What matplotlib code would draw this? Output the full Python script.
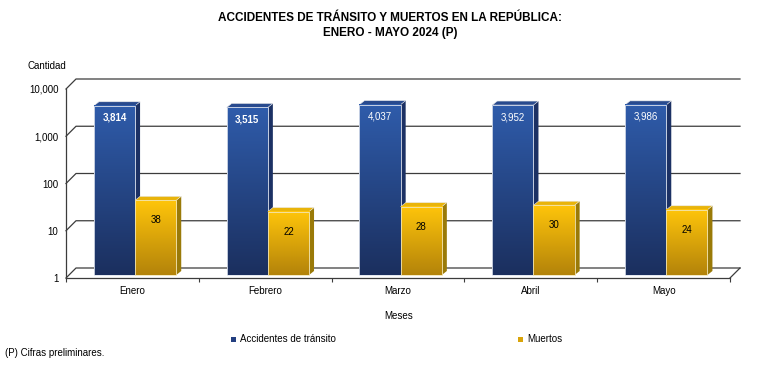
import numpy as np
import matplotlib
matplotlib.use("Agg")
import matplotlib.pyplot as plt
from matplotlib import font_manager
from matplotlib.patches import Polygon, Rectangle
from matplotlib.colors import LinearSegmentedColormap
import matplotlib.transforms as mtransforms

# drop the narrow variant so "Liberation Sans" gets the normal width face
font_manager.fontManager.ttflist = [f for f in font_manager.fontManager.ttflist
                                    if 'narrow' not in f.fname.lower()]
plt.rcParams['font.family'] = ['Liberation Sans', 'DejaVu Sans']

# datos
meses = ['Enero', 'Febrero', 'Marzo', 'Abril', 'Mayo']
accidentes = [3814, 3515, 4037, 3952, 3986]
muertos = [38, 22, 28, 30, 24]
etiq_acc_bold = [True, True, False, False, False]
y_ticks = [1, 10, 100, 1000, 10000]
y_ticklabels = ['1', '10', '100', '1,000', '10,000']

W, H, DPI = 7.63, 3.75, 100
fig = plt.figure(figsize=(W, H), dpi=DPI)
fig.patch.set_facecolor('white')

ax = fig.add_axes([66 / 763, 1 - 278 / 375, (730 - 66) / 763, (278 - 89) / 375])
ax.set_yscale('log')
ax.patch.set_alpha(0)

# the bars sit a little behind the front axis plane
bar_trans = ax.transData + mtransforms.ScaledTranslation(2 / DPI, 3 / DPI, fig.dpi_scale_trans)

x = np.arange(len(meses)) + 0.5
w = 0.31
b1 = ax.bar(x - 0.15, np.array(accidentes) - 1, width=w, bottom=1, transform=bar_trans,
            facecolor='none', edgecolor='#dfe4ee', linewidth=0.6, zorder=5)
b2 = ax.bar(x + 0.16, np.array(muertos) - 1, width=w, bottom=1, transform=bar_trans,
            facecolor='none', edgecolor='#f2e6b8', linewidth=0.6, zorder=8)

ax.set_xlim(0, 5)
ax.set_ylim(1, 10000)

to_fig = fig.transFigure.inverted()


def fpts(pts):
    return to_fig.transform(np.array(pts))


grad = np.linspace(0, 1, 256).reshape(-1, 1)
cm_blue = LinearSegmentedColormap.from_list('b', ['#1b2f5e', '#2f5cab'])
cm_yel = LinearSegmentedColormap.from_list('y', ['#b3830a', '#ffc50a'])

DX, DY = 5, 4


def draw_3d(bars, cmap, side_col, top_col, z):
    for r in bars:
        bb = r.get_window_extent()
        x0, x1, y0, y1 = bb.x0, bb.x1, bb.y0, bb.y1
        side = Polygon(fpts([(x1, y0), (x1 + DX, y0 + DY), (x1 + DX, y1 + DY), (x1, y1)]),
                       closed=True, transform=fig.transFigure, facecolor=side_col,
                       edgecolor='none', zorder=z, clip_on=False)
        top = Polygon(fpts([(x0, y1), (x0 + DX, y1 + DY), (x1 + DX, y1 + DY), (x1, y1)]),
                      closed=True, transform=fig.transFigure, facecolor=top_col,
                      edgecolor='#e8e8e8', linewidth=0.4, zorder=z, clip_on=False)
        ax.add_patch(side)
        ax.add_patch(top)
        (fx0, fy0), (fx1, fy1) = fpts([(x0, y0), (x1, y1)])
        ax.imshow(grad, extent=(fx0, fx1, fy0, fy1), origin='lower', cmap=cmap,
                  aspect='auto', transform=fig.transFigure, zorder=z + 0.5,
                  interpolation='bilinear', clip_on=False)


draw_3d(b1, cm_blue, '#1c3164', '#284a8e', 4)
draw_3d(b2, cm_yel, '#9a7a08', '#e9b40a', 7)

ax.set_xlim(0, 5)
ax.set_ylim(1, 10000)

# back wall gridlines and side wall
OFF = np.array([10, 10])
grid_kw = dict(color='#3c3c3c', linewidth=0.9, transform=fig.transFigure, clip_on=False, zorder=1)
for v in y_ticks:
    p = ax.transData.transform((0, v))
    q = ax.transData.transform((5, v))
    pts = fpts([p, p + OFF, q + OFF])
    ax.plot(pts[:, 0], pts[:, 1], **grid_kw)
    if v == 1:
        pts = fpts([q, q + OFF])
        ax.plot(pts[:, 0], pts[:, 1], **grid_kw)

for s in ['top', 'right']:
    ax.spines[s].set_visible(False)
for s in ['left', 'bottom']:
    ax.spines[s].set_color('#3c3c3c')
    ax.spines[s].set_linewidth(0.9)

ax.set_yticks(y_ticks)
ax.set_yticklabels(y_ticklabels)
ax.yaxis.set_minor_locator(matplotlib.ticker.NullLocator())
ax.tick_params(axis='y', length=0, pad=5.5, labelsize=7)

ax.set_xticks(x)
ax.set_xticklabels(meses)
ax.set_xticks(np.arange(len(meses) + 1), minor=True)
ax.tick_params(axis='x', which='major', length=0, pad=6, labelsize=7)
ax.tick_params(axis='x', which='minor', length=3, width=0.8, color='#3c3c3c', direction='out')

# data labels
for r, v, bold in zip(b1, accidentes, etiq_acc_bold):
    bb = r.get_window_extent()
    cx, cy = fpts([((bb.x0 + bb.x1) / 2, bb.y1 - 12)])[0]
    fig.text(cx, cy, f'{v:,}', ha='center', va='center', color='white', fontsize=7,
             fontweight='bold' if bold else 'normal', zorder=10)
for r, v in zip(b2, muertos):
    bb = r.get_window_extent()
    cx, cy = fpts([((bb.x0 + bb.x1) / 2, bb.y1 - 20)])[0]
    fig.text(cx, cy, f'{v:,}', ha='center', va='center', color='black', fontsize=7, zorder=10)

# texts
fig.text(390.5 / 763, 1 - 18 / 375, 'ACCIDENTES DE TRÁNSITO Y MUERTOS EN LA REPÚBLICA:',
         ha='center', va='center', fontsize=8.5, fontweight='bold')
fig.text(390.5 / 763, 1 - 33 / 375, 'ENERO - MAYO 2024 (P)',
         ha='center', va='center', fontsize=8.5, fontweight='bold')
fig.text(28 / 763, 1 - 66 / 375, 'Cantidad', ha='left', va='center', fontsize=7)
fig.text(399 / 763, 1 - 316 / 375, 'Meses', ha='center', va='center', fontsize=7)
fig.text(5 / 763, 1 - 353 / 375, '(P) Cifras preliminares.', ha='left', va='center', fontsize=7)

# legend
fig.patches.append(Rectangle((231 / 763, 1 - 342 / 375), 5 / 763, 5 / 375,
                             transform=fig.transFigure, facecolor='#233f80', edgecolor='none'))
fig.text(240 / 763, 1 - 339 / 375, 'Accidentes de tránsito', ha='left', va='center', fontsize=7)
fig.patches.append(Rectangle((518 / 763, 1 - 342 / 375), 5 / 763, 5 / 375,
                             transform=fig.transFigure, facecolor='#d9a40a', edgecolor='none'))
fig.text(527 / 763, 1 - 339 / 375, 'Muertos', ha='left', va='center', fontsize=7)

fig.savefig('out.png', dpi=DPI)
